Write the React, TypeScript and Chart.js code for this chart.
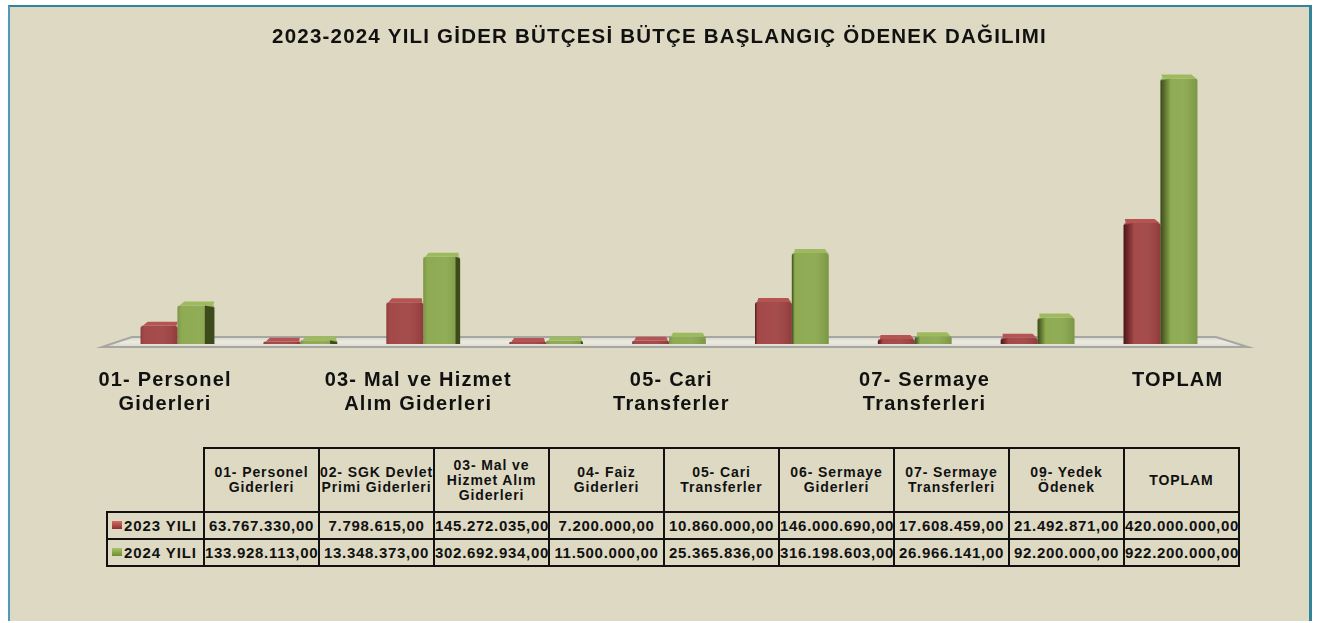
import React, { useEffect, useRef } from 'react';
import { Chart, registerables } from 'chart.js';

Chart.register(...registerables);

const TITLE = '2023-2024 YILI GİDER BÜTÇESİ BÜTÇE BAŞLANGIÇ ÖDENEK DAĞILIMI';

const categories = [
  '01- Personel Giderleri',
  '02- SGK Devlet Primi Giderleri',
  '03- Mal ve Hizmet Alım Giderleri',
  '04- Faiz Giderleri',
  '05- Cari Transferler',
  '06- Sermaye Giderleri',
  '07- Sermaye Transferleri',
  '09- Yedek Ödenek',
  'TOPLAM',
];

// axis labels (every other category shown, as in the reference)
const axisLabels: (string | string[])[] = [
  ['01- Personel', 'Giderleri'],
  '',
  ['03- Mal ve Hizmet', 'Alım Giderleri'],
  '',
  ['05- Cari', 'Transferler'],
  '',
  ['07- Sermaye', 'Transferleri'],
  '',
  'TOPLAM',
];

// table header labels
const headerLabels: string[][] = [
  ['01- Personel', 'Giderleri'],
  ['02- SGK Devlet', 'Primi Giderleri'],
  ['03- Mal ve', 'Hizmet Alım', 'Giderleri'],
  ['04- Faiz', 'Giderleri'],
  ['05- Cari', 'Transferler'],
  ['06- Sermaye', 'Giderleri'],
  ['07- Sermaye', 'Transferleri'],
  ['09- Yedek', 'Ödenek'],
  ['TOPLAM'],
];

const seriesNames = ['2023 YILI', '2024 YILI'];
const values2023 = [63767330, 7798615, 145272035, 7200000, 10860000, 146000690, 17608459, 21492871, 420000000];
const values2024 = [133928113, 13348373, 302692934, 11500000, 25365836, 316198603, 26966141, 92200000, 922200000];

const FONT = "'Liberation Sans', Arial, sans-serif";
const RED = '#a04242';
const GREEN = '#8aa84c';
const RED_DARK = '#4a1818';
const GREEN_DARK = '#3c4a1c';

function fmt(v: number): string {
  const s = Math.round(v).toString();
  const parts: string[] = [];
  for (let i = s.length; i > 0; i -= 3) parts.unshift(s.substring(Math.max(0, i - 3), i));
  return parts.join('.') + ',00';
}

const spacing = {
  id: 'spacing',
  beforeDraw(chart: any) {
    (chart.ctx as any).letterSpacing = '1.2px';
  },
};

// category labels on the front edge of the 3D floor (slightly spread by perspective)
const frontLabels = {
  id: 'frontLabels',
  afterDraw(chart: any) {
    const { ctx, chartArea: a } = chart;
    const xs = chart.scales.x;
    const v = a.left + (a.right - a.left) * 0.447;
    const k = 1.03;
    ctx.save();
    (ctx as any).letterSpacing = '1.2px';
    ctx.font = `bold 20px ${FONT}`;
    ctx.fillStyle = '#111';
    ctx.textAlign = 'center';
    ctx.textBaseline = 'middle';
    axisLabels.forEach((lab, i) => {
      const lines = Array.isArray(lab) ? lab : [lab];
      const px = xs.getPixelForValue(i);
      const x = v + (px - v) * k;
      lines.forEach((l, j) => {
        if (l) ctx.fillText(l, x + 0.6, a.bottom + 36 + j * 24);
      });
    });
    ctx.restore();
  },
};

const bar3d = {
  id: 'bar3d',
  beforeDatasetsDraw(chart: any) {
    const { ctx, chartArea: a } = chart;
    const b = a.bottom;
    ctx.save();
    ctx.beginPath();
    ctx.moveTo(a.left - 14, b + 3);
    ctx.lineTo(a.right + 26, b + 3);
    ctx.lineTo(a.right - 6, b - 7);
    ctx.lineTo(a.left + 16, b - 7);
    ctx.closePath();
    const g = ctx.createLinearGradient(0, b - 7, 0, b + 3);
    g.addColorStop(0, '#d9d6c6');
    g.addColorStop(0.5, '#ecebe2');
    g.addColorStop(1, '#dcd9ca');
    ctx.fillStyle = g;
    ctx.fill();
    ctx.lineWidth = 2;
    ctx.strokeStyle = '#a6a6a2';
    ctx.stroke();
    ctx.restore();
  },
  afterDatasetsDraw(chart: any) {
    const { ctx, chartArea: a } = chart;
    const vx = (a.left + a.right) / 2;
    const last = chart.data.datasets.length - 1;
    chart.data.datasets.forEach((ds: any, di: number) => {
      const meta = chart.getDatasetMeta(di);
      const main = di === 0 ? RED : GREEN;
      const dark = di === 0 ? RED_DARK : GREEN_DARK;
      const light = di === 0 ? '#b65454' : '#9dbb5e';
      meta.data.forEach((el: any) => {
        const { x, y, base, width } = el.getProps(['x', 'y', 'base', 'width'], true);
        const left = x - width / 2;
        const right = x + width / 2;
        const h = base - y;
        const off = x - vx;
        const s = Math.min(10, Math.abs(off) / 50);
        const dx = -off / 160;
        ctx.save();
        // top face (gives the slab look for tiny bars)
        const depth = 4;
        ctx.beginPath();
        ctx.moveTo(left + 2, y);
        ctx.lineTo(right - 1, y);
        ctx.lineTo(right - 3 + dx, y - depth);
        ctx.lineTo(left + 4 + dx, y - depth);
        ctx.closePath();
        ctx.fillStyle = light;
        ctx.fill();
        // front shading
        const g = ctx.createLinearGradient(left, 0, right, 0);
        g.addColorStop(0, 'rgba(0,0,0,0.12)');
        g.addColorStop(0.15, 'rgba(255,255,255,0.04)');
        g.addColorStop(0.6, 'rgba(255,255,255,0.06)');
        g.addColorStop(1, 'rgba(0,0,0,0.10)');
        ctx.fillStyle = g;
        ctx.fillRect(left, y, width, h);
        // side strip (right side hidden by neighbour for left-of-centre groups)
        const showSide = off < 0 ? di === last : true;
        if (s > 1 && showSide) {
          const sx = off < 0 ? right - s : left;
          const sg = ctx.createLinearGradient(sx, 0, sx + s, 0);
          sg.addColorStop(0, dark);
          sg.addColorStop(1, off < 0 ? dark : main);
          ctx.fillStyle = off < 0 ? dark : sg;
          ctx.beginPath();
          ctx.moveTo(sx, y + (off < 0 ? 0 : 2));
          ctx.lineTo(sx + s, y + (off < 0 ? 2 : 0));
          ctx.lineTo(sx + s, base);
          ctx.lineTo(sx, base);
          ctx.closePath();
          ctx.fill();
        }
        ctx.restore();
      });
    });
  },
};

export default function App() {
  const ref = useRef<HTMLCanvasElement>(null);

  useEffect(() => {
    document.body.style.overflow = 'hidden';
    if (!ref.current) return;
    const hidden = {
      ticks: { display: false },
      grid: { display: false, drawTicks: false },
      border: { display: false },
    };
    const chart = new Chart(ref.current, {
      type: 'bar',
      data: {
        labels: categories,
        datasets: [
          { label: seriesNames[0], data: values2023, backgroundColor: RED, borderRadius: { topLeft: 3, topRight: 3 }, borderSkipped: 'bottom', categoryPercentage: 0.6, barPercentage: 1.0, yAxisID: 'y' },
          { label: seriesNames[1], data: values2024, backgroundColor: GREEN, borderRadius: { topLeft: 3, topRight: 3 }, borderSkipped: 'bottom', categoryPercentage: 0.6, barPercentage: 1.0, yAxisID: 'y' },
        ],
      },
      options: {
        responsive: false,
        animation: false,
        layout: { padding: 0 },
        plugins: {
          legend: { display: false },
          tooltip: { enabled: false },
          title: {
            display: true,
            text: TITLE,
            color: '#111',
            font: { family: FONT, size: 20.5, weight: 'bold' },
            padding: { top: 18, bottom: 6.4 },
          },
        },
        scales: {
          x: {
            ...hidden,
            afterFit: (s: any) => { s.height = 96; },
          },
          y: {
            ...hidden,
            position: 'left',
            min: 0,
            max: 1000000000,
            afterFit: (s: any) => { s.width = 106; },
          },
          yr: {
            ...hidden,
            position: 'right',
            min: 0,
            max: 1,
            afterFit: (s: any) => { s.width = 87; },
          },
        },
      },
      plugins: [spacing, bar3d, frontLabels],
    } as any);
    return () => chart.destroy();
  }, []);

  const cellBorder = '2px solid #111';
  const th: React.CSSProperties = {
    border: cellBorder,
    font: `bold 14px ${FONT}`,
    lineHeight: '15px',
    letterSpacing: '0.9px',
    textAlign: 'center',
    verticalAlign: 'middle',
    color: '#111',
    padding: 0,
    height: 62,
    whiteSpace: 'nowrap',
    overflow: 'hidden',
  };
  const td: React.CSSProperties = {
    border: cellBorder,
    font: `bold 15px ${FONT}`,
    letterSpacing: '0.7px',
    textAlign: 'center',
    verticalAlign: 'middle',
    color: '#111',
    padding: 0,
    height: 25,
    whiteSpace: 'nowrap',
    overflow: 'visible',
  };
  const rows = [values2023, values2024];
  const keyGrad = [
    'linear-gradient(#d46a6a, #8e2f2f)',
    'linear-gradient(#a9c46a, #6f8c34)',
  ];

  return (
    <div
      style={{
        position: 'absolute',
        left: 8,
        top: 5,
        width: 1299,
        height: 614,
        background: '#ddd9c3',
        borderTop: '2px solid #31849b',
        borderLeft: '2px solid #4f9bb5',
        borderRight: '3px solid #31849b',
        overflow: 'hidden',
      }}
    >
      <canvas ref={ref} width={1299} height={433} style={{ position: 'absolute', left: 0, top: 0, width: 1299, height: 433 }} />
      <table
        style={{
          position: 'absolute',
          left: 96,
          top: 440,
          borderCollapse: 'collapse',
          tableLayout: 'fixed',
          width: 97 + 115 * 9,
        }}
      >
        <colgroup>
          <col style={{ width: 97 }} />
          {categories.map((c) => (
            <col key={c} style={{ width: 115 }} />
          ))}
        </colgroup>
        <tbody>
          <tr>
            <td style={{ border: 'none' }} />
            {headerLabels.map((lines, i) => (
              <th key={i} style={th}>
                {lines.map((l, j) => (
                  <div key={j}>{l}</div>
                ))}
              </th>
            ))}
          </tr>
          {rows.map((vals, r) => (
            <tr key={r}>
              <td style={{ ...td, textAlign: 'left', paddingLeft: 4, letterSpacing: '0.9px' }}>
                <span
                  style={{
                    display: 'inline-block',
                    width: 10,
                    height: 8,
                    marginRight: 2,
                    background: keyGrad[r],
                    verticalAlign: 'middle',
                    position: 'relative',
                    top: -2,
                  }}
                />
                {seriesNames[r]}
              </td>
              {vals.map((v, i) => (
                <td key={i} style={td}>
                  {fmt(v)}
                </td>
              ))}
            </tr>
          ))}
        </tbody>
      </table>
    </div>
  );
}
